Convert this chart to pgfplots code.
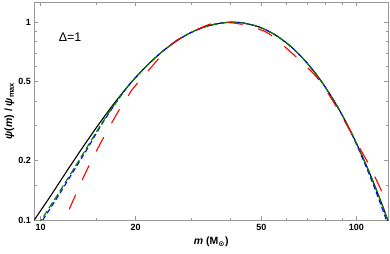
\documentclass[border=0pt]{standalone}
\usepackage{pgfplots}
\pgfplotsset{compat=1.18}
\usepackage{fontspec}
\setmainfont{Liberation Sans}
\newfontfamily\dejavu{DejaVu Sans}
\definecolor{dgreen}{rgb}{0,0.5,0}

\pgfplotstableread{
m psi
8.91 0.0856
9.54 0.1000
10.72 0.1316
12.02 0.1739
13.49 0.2292
15.14 0.2990
16.98 0.3836
19.05 0.4818
21.38 0.5892
23.99 0.6995
26.92 0.8043
30.20 0.8936
33.88 0.9589
38.02 0.9944
40.70 1.0000
43.65 0.9929
48.98 0.9493
54.95 0.8694
61.66 0.7603
69.18 0.6330
77.62 0.5006
87.10 0.3750
97.72 0.2651
109.6 0.1764
120.2 0.1217
126.3 0.0980
131.8 0.0805
}\blackdata

\pgfplotstableread{
m psi
9.42 0.0856
10.04 0.1000
11.22 0.1316
12.52 0.1739
13.93 0.2292
15.42 0.2990
17.12 0.3836
19.05 0.4818
21.38 0.5892
23.99 0.6995
26.92 0.8043
30.20 0.8936
33.88 0.9589
38.02 0.9944
40.70 1.0000
43.65 0.9929
48.98 0.9493
54.95 0.8694
61.66 0.7603
69.18 0.6330
77.62 0.5006
87.10 0.3750
97.72 0.2651
109.6 0.1764
120.2 0.1217
126.3 0.0980
131.8 0.0805
}\greendata

\pgfplotstableread{
m psi
9.53 0.0856
10.15 0.1000
11.34 0.1316
12.63 0.1739
14.05 0.2292
15.50 0.2990
17.16 0.3836
19.05 0.4818
21.38 0.5892
23.99 0.6995
26.92 0.8043
30.20 0.8936
33.88 0.9589
38.02 0.9944
40.70 1.0000
43.65 0.9929
48.98 0.9493
54.95 0.8694
61.66 0.7603
69.18 0.6330
77.62 0.5006
87.10 0.3750
97.50 0.2651
108.9 0.1764
119.1 0.1217
130.6 0.0805
}\bluedata

\pgfplotstableread{
m psi
11.22 0.0805
11.90 0.100
13.91 0.175
15.67 0.254
17.70 0.359
19.00 0.428
19.80 0.471
24.46 0.695
26.97 0.811
33.60 0.966
38.20 1.000
44.40 0.970
48.90 0.925
54.60 0.843
73.10 0.551
84.60 0.396
102.7 0.230
109.2 0.193
114.6 0.165
121.8 0.134
126.3 0.118
131.8 0.101
}\reddata

\begin{document}
\begin{tikzpicture}
\useasboundingbox (0,0) rectangle (390bp,254bp);
\begin{axis}[
  at={(34.3bp,34bp)}, anchor=south west,
  width=354bp, height=218bp, scale only axis,
  xmode=log, ymode=log,
  xmin=9.544, xmax=126.3, ymin=0.1, ymax=1.266,
  axis line style={black!40, line width=0.6bp},
  every tick/.style={black!40, line width=0.6bp},
  major tick length=4bp, minor tick length=2.5bp,
  tick align=inside, xtick pos=both, ytick pos=both,
  xtick={10,20,50,100}, xticklabels={10,20,50,100},
  minor xtick={15,30,40,60,70,80,90},
  ytick={0.1,0.2,0.5,1}, yticklabels={0.1,0.2,0.5,1},
  minor ytick={0.15,0.3,0.4,0.6,0.7,0.8,0.9},
  ticklabel style={font=\fontsize{9bp}{10bp}\selectfont\bfseries, text=black},
  xticklabel style={yshift=-1bp},
  xlabel={\textbf{\textit{m} (M\textsubscript{\dejavu\bfseries ⊙})}},
  ylabel={\textbf{\textit{ψ}(\textit{m}) / \textit{ψ}\textsubscript{max}}},
  label style={font=\fontsize{10.5bp}{12bp}\selectfont},
  xlabel style={at={(axis description cs:0.5,-0.101)}, anchor=center},
  ylabel style={at={(axis description cs:-0.0701,0.5)}, anchor=center},
  clip=true,
]
\addplot[black, line width=1.1bp, smooth] table[x=m,y=psi] {\blackdata};
\addplot[blue, line width=1.1bp, smooth, dash pattern=on 5bp off 3bp] table[x=m,y=psi] {\bluedata};
\addplot[dgreen, line width=1.1bp, smooth, dash pattern=on 7bp off 3bp] table[x=m,y=psi] {\greendata};
\addplot[red, line width=1.1bp, smooth, dash pattern=on 16bp off 16bp] table[x=m,y=psi] {\reddata};
\node[font=\fontsize{12.5bp}{14bp}\selectfont] at (rel axis cs:0.101,0.839) {Δ=1};
\end{axis}
\end{tikzpicture}
\end{document}
